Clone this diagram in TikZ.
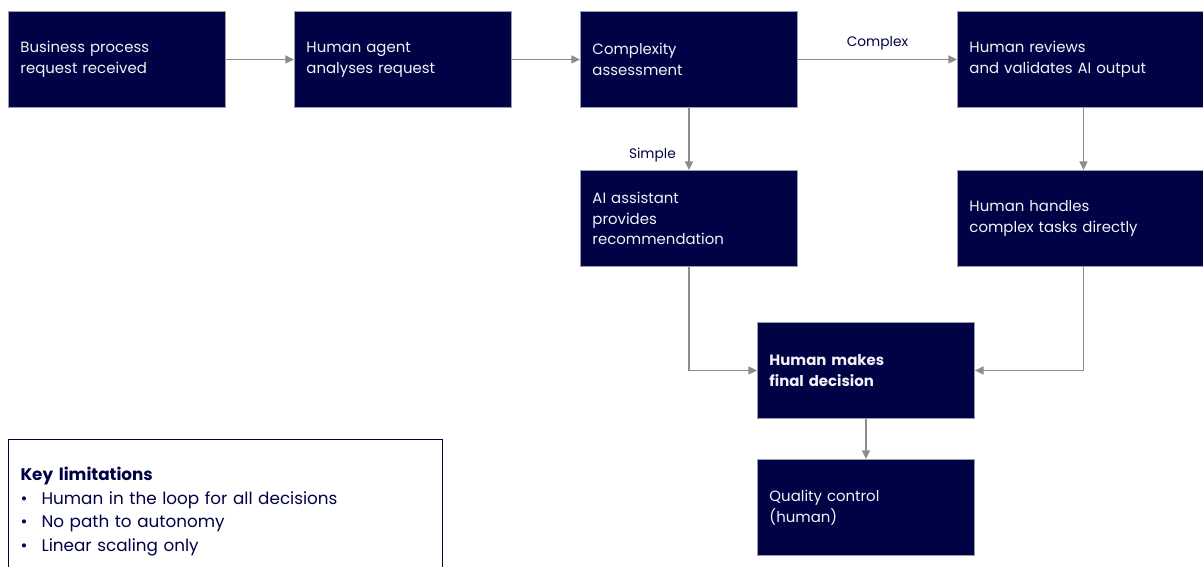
\documentclass[tikz,border=0pt]{standalone}
\usepackage{fontspec}
\setmainfont{Poppins}
\usetikzlibrary{arrows.meta,positioning}
\definecolor{navy}{HTML}{000246}
\definecolor{edgegray}{HTML}{8C8C8C}
\definecolor{rimgray}{HTML}{9C9CAC}
\definecolor{paletext}{HTML}{F2F2F6}
\tikzset{
  stepbox/.style ={draw=rimgray, fill=navy, text=paletext, line width=0.7pt,
                   anchor=north west, minimum height=72pt, inner xsep=9pt,
                   text width=144.75pt, align=left,
                   font=\fontsize{11.2}{15.5}\selectfont},
  widebox/.style ={stepbox, text width=171pt},
  flow/.style    ={-{Triangle[length=6.5pt,width=6pt]}, line width=1.1pt,
                   edgegray},
  lbl/.style     ={font=\fontsize{10.3}{12}\selectfont, text=navy},
  keybox/.style  ={draw=navy, fill=white, line width=0.8pt,
                   anchor=north west, inner xsep=9pt, inner ysep=21pt,
                   text width=307.5pt, align=left, text=navy,
                   font=\fontsize{12.6}{17.6}\selectfont},
}

\begin{document}
\begin{tikzpicture}[x=0.75pt, y=-0.75pt]
  \path[use as bounding box, fill=white] (0,0) rectangle (1203,567);

  % top row
  \node[stepbox] (req)    at (8,11)   {Business process\\request received};
  \node[stepbox] (agent)  at (294,11) {Human agent\\analyses request};
  \node[stepbox] (assess) at (580,11) {Complexity\\assessment};
  \node[widebox] (review) at (957,11) {Human reviews\\and validates AI output};

  % second row
  \node[stepbox] (aiasst) at (580,170) {AI assistant\\provides\\recommendation};
  \node[widebox] (handle) at (957,170) {Human handles\\complex tasks directly};

  % decision and QC
  \node[stepbox, font=\fontsize{11.2}{15.5}\selectfont\bfseries] (decide)
    at (757,322) {Human makes\\final decision};
  \node[stepbox] (qc) at (757,459) {Quality control\\(human)};

  \draw[flow] (req) -- (agent);
  \draw[flow] (agent) -- (assess);
  \draw[flow] (assess) -- (review) node[lbl, midway, above=3pt] {Complex};
  \draw[flow] (assess) -- (aiasst) node[lbl, pos=0.76, left=6pt] {Simple};
  \draw[flow] (review) -- (handle);
  \draw[flow] (aiasst.south) |- (decide.west);
  \draw[flow] (handle.south) |- (decide.east);
  \draw[flow] (decide) -- (qc);

  % limitations panel
  \node[keybox] (limits) at (8,439)
    {{\bfseries Key limitations}\\
     \makebox[15.75pt][l]{\textbullet}Human in the loop for all decisions\\
     \makebox[15.75pt][l]{\textbullet}No path to autonomy\\
     \makebox[15.75pt][l]{\textbullet}Linear scaling only};
\end{tikzpicture}
\end{document}
